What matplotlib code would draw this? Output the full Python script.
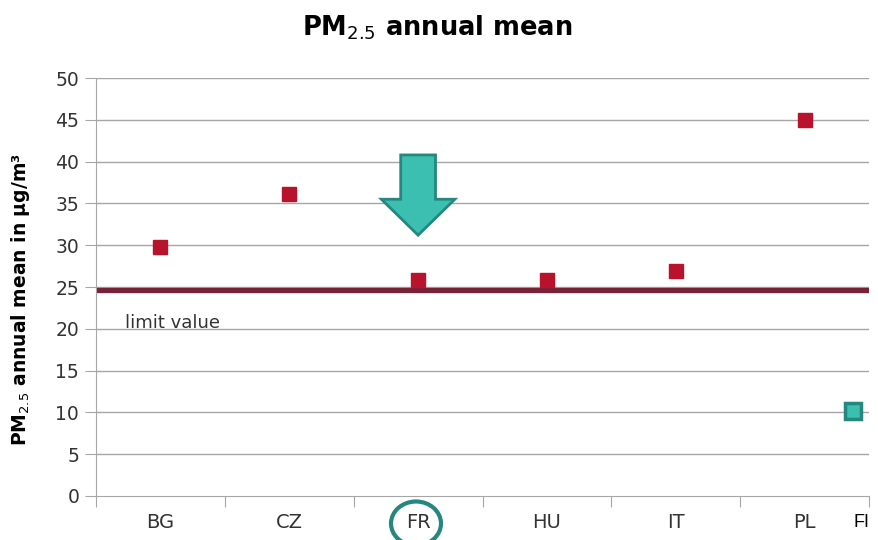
import matplotlib
matplotlib.use("Agg")
import matplotlib.pyplot as plt
import matplotlib.patches as mpatches
import matplotlib.transforms as mtransforms
from matplotlib.ticker import FixedLocator, NullFormatter

countries = ["BG", "CZ", "FR", "HU", "IT", "PL"]
pm25 = [29.8, 36.1, 25.8, 25.8, 26.9, 45.0]
fi_label = "FI"
fi_pos = 5.37
fi_value = 10.2
limit_value = 24.7
yticks = [0, 5, 10, 15, 20, 25, 30, 35, 40, 45, 50]

red = "#b8122c"
teal_face = "#3bbfb0"
teal_edge = "#25877d"
maroon = "#782237"
grey_text = "#333333"

fig = plt.figure(figsize=(8.79, 5.4), dpi=100)
ax = fig.add_axes([0.109, 0.0815, 0.88, 0.774])

xs = list(range(len(countries)))
ax.set_xlim(-0.5, len(countries) - 0.5)
ax.set_ylim(0, 50)

# grid
for y in yticks[1:]:
    ax.axhline(y, color="#a6a6a6", lw=1.0, zorder=1)

ax.axhline(limit_value, color=maroon, lw=3.8, zorder=2)
ax.text(-0.27, 20.7, "limit value", fontsize=13, color=grey_text, va="center", ha="left")

ax.plot(xs, pm25, "s", color=red, markersize=10, zorder=4, linestyle="none")
ax.plot([fi_pos], [fi_value], "s", markerfacecolor=teal_face, markeredgecolor=teal_edge,
        markeredgewidth=2.5, markersize=12, zorder=4, clip_on=False)

# arrow pointing at FR
arrow = mpatches.FancyArrow(2, 40.8, 0, -9.6, width=0.27, head_width=0.57, head_length=4.3,
                            length_includes_head=True, facecolor=teal_face, edgecolor=teal_edge,
                            linewidth=2, zorder=5)
ax.add_patch(arrow)

for s in ["top", "right"]:
    ax.spines[s].set_visible(False)
ax.spines["left"].set_color("#a6a6a6")
ax.spines["bottom"].set_color("#a6a6a6")

ax.set_yticks(yticks)
ax.tick_params(axis="y", direction="out", length=8, color="#a6a6a6", labelsize=13.5,
               labelcolor=grey_text, pad=4)
ax.xaxis.set_major_locator(FixedLocator([i - 0.5 for i in range(len(countries) + 1)]))
ax.xaxis.set_major_formatter(NullFormatter())
ax.xaxis.set_minor_locator(FixedLocator(xs))
ax.set_xticklabels(countries, minor=True)
ax.tick_params(axis="x", which="major", direction="out", length=8, color="#a6a6a6")
ax.tick_params(axis="x", which="minor", length=0, labelsize=14, labelcolor=grey_text, pad=12)

trans = mtransforms.blended_transform_factory(ax.transData, ax.transAxes)
ax.text(5.44, -0.064, fi_label, transform=trans, fontsize=13, family="Liberation Sans",
        color="black", ha="center", va="center", clip_on=False)

ax.set_ylabel("PM$_{2.5}$ annual mean in µg/m³", fontsize=13.5, fontweight="bold")
ax.yaxis.set_label_coords(-0.083, 0.47)
fig.text(0.497, 0.948, "PM$_{2.5}$ annual mean", fontsize=18.5, fontweight="bold",
         ha="center", va="center")

# circle around FR label
circle = mpatches.Ellipse((4.16, 0.165), 0.5, 0.44, transform=fig.dpi_scale_trans,
                          fill=False, edgecolor=teal_edge, linewidth=3)
fig.patches.append(circle)

fig.savefig("out.png", dpi=100)
